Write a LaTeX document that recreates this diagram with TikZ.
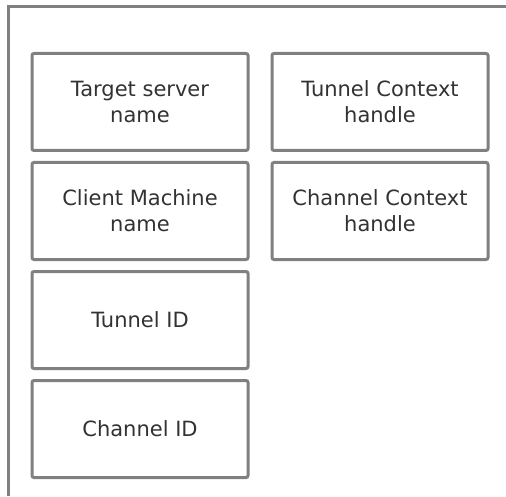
\documentclass[tikz,border=0pt]{standalone}
\usepackage{fontspec}
\setmainfont{DejaVu Sans}
\usetikzlibrary{positioning}
\definecolor{rahmengrau}{RGB}{128,128,128}
\definecolor{textgrau}{RGB}{50,50,50}

\begin{document}
\begin{tikzpicture}[x=0.5pt, y=-0.5pt, node distance=6pt and 12pt,
    feld/.style={draw=rahmengrau, line width=1.5pt, rounded corners=1pt,
        minimum width=108pt, minimum height=48.5pt, inner sep=0pt, outer sep=0pt,
        align=center, text=textgrau, font=\fontsize{10.5}{13}\selectfont}]

    % Bildgroesse festlegen
    \useasboundingbox (0,0) rectangle (506,496);

    % Aeusserer Rahmen (nur links und oben sichtbar)
    \draw[rahmengrau, line width=1.5pt] (8.5,496) -- (8.5,6.5) -- (506,6.5);

    % Linke Spalte
    \node[feld] (target) at (140,102) {Target server\\name};
    \node[feld, below=of target] (client) {Client Machine\\name};
    \node[feld, below=of client] (tunnelid) {Tunnel ID};
    \node[feld, below=of tunnelid] (channelid) {Channel ID};

    % Rechte Spalte
    \node[feld, right=of target] (tunnelctx) {Tunnel Context\\handle};
    \node[feld, below=of tunnelctx] (channelctx) {Channel Context\\handle};

\end{tikzpicture}
\end{document}
